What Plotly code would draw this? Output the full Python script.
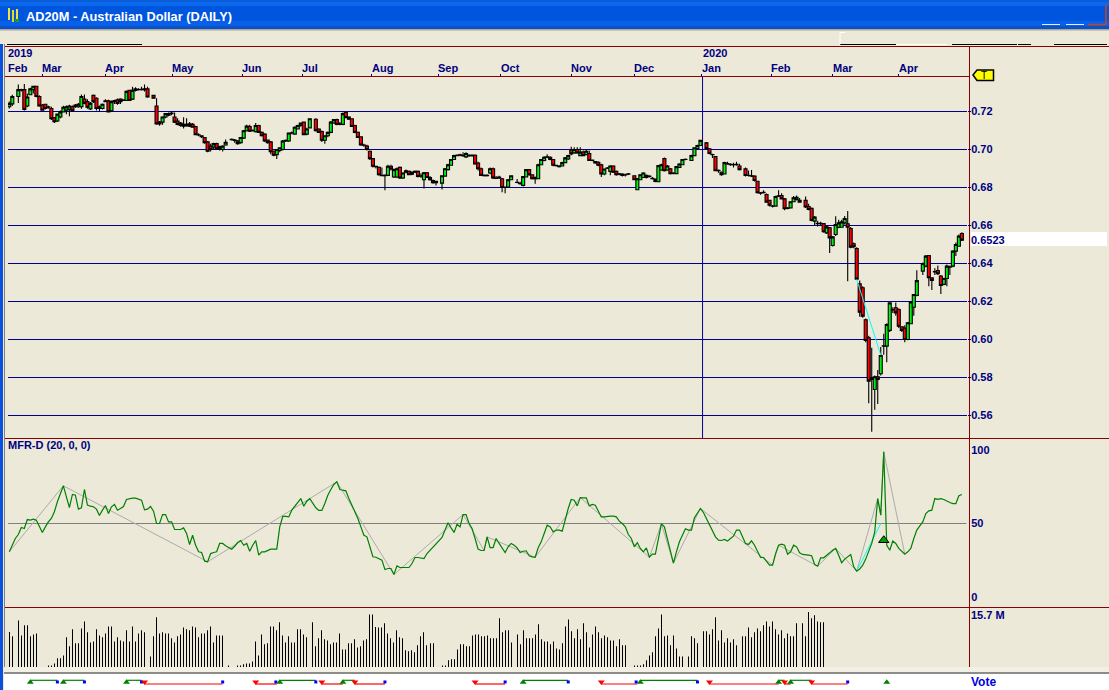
import math
import plotly.graph_objects as go

N = None
# Prices in 1/10000 of a US dollar, one entry per weekday slot (None = no bar)
opens_e4 = [7225,7240,N,7279,7312,7315,7229,7288,7315,7333,
7279,7234,7238,7225,7216,7168,7150,7171,7198,7207,
7211,7225,7225,7225,7225,7265,7252,7214,7285,7270,
7225,7216,7252,7256,7204,7258,7261,7265,7261,7258,
7311,7265,7311,7315,7315,7315,7319,N,7285,7229,
7144,7144,7171,7180,7189,7171,7150,7126,7132,7132,
7135,7132,7121,7078,7072,7063,7040,7018,7013,7031,
7015,7000,7024,N,7052,7050,7045,7036,7060,7099,
7121,7099,7094,7126,7090,7081,7050,7040,6991,6973,
6995,7000,7045,7045,7087,7081,7108,7126,7144,7081,
7114,N,7159,7108,7094,7049,7072,7090,7139,7157,
7135,7132,7195,7171,7162,7126,7090,7067,7024,7018,
6991,6952,6912,6906,6864,6862,6864,6912,6855,6855,
6906,6850,6880,6885,6870,6880,6885,6860,6841,6878,
6853,6837,6825,N,6823,6860,6894,6917,6947,6968,
6970,6970,6961,6970,6968,6970,6929,6899,6864,6862,
6876,6899,6850,6850,6846,6800,6802,6841,N,6826,
6820,6811,6855,6894,6867,6846,6846,6920,6942,6959,
6959,6947,6917,6912,6913,6931,6950,6996,6982,7000,
6968,6986,6973,6979,6942,6936,6933,6920,6871,6903,
6885,6913,6885,6872,6871,6867,6870,N,6862,6788,
6841,6853,6864,6858,6846,6844,6830,6892,6952,6892,
6899,6876,6873,6906,6920,6947,N,6942,6968,7005,
7021,N,7035,7004,6974,6963,6888,6880,6871,6924,
6920,6920,6922,6913,N,6898,6864,6862,6860,6833,
6772,6775,6763,6732,6703,6702,6754,6758,6740,6690,
6693,6725,6737,6733,N,6732,6700,6690,6623,6610,
6612,6610,6561,6588,6495,6553,6591,6591,6614,6609,
6584,6504,6479,6293,6272,6104,6009,5795,5737,5804,
5820,5965,5965,6048,6158,6167,6158,6067,6060,6000,
6083,6170,6232,N,6360,6386,6442,6325,6355,6363,
6334,6290,6321,6381,6386,6465,6491,6558]

highs_e4 = [7252,7288,N,7342,7320,7345,7295,7325,7335,7335,
7285,7240,7240,7230,7225,7170,7190,7205,7230,7232,
7235,7232,7240,7245,7290,7290,7265,7250,7290,7275,
7232,7242,7265,7262,7258,7262,7268,7270,7265,7310,
7315,7330,7328,7322,7330,7342,7330,N,7287,7270,
7150,7175,7192,7195,7198,7195,7165,7145,7170,7165,
7145,7140,7125,7085,7075,7065,7045,7030,7035,7035,
7020,7022,7052,N,7058,7055,7050,7066,7102,7130,
7130,7105,7140,7130,7095,7085,7052,7045,6995,7003,
7012,7050,7052,7090,7095,7122,7130,7142,7147,7115,
7165,N,7165,7112,7100,7075,7095,7150,7160,7162,
7145,7195,7200,7175,7165,7130,7095,7070,7030,7025,
6995,6955,6915,6910,6905,6870,6920,6920,6900,6905,
6910,6880,6895,6890,6885,6890,6890,6875,6882,6882,
6860,6842,6835,N,6865,6902,6925,6950,6972,6975,
6978,6985,6985,6975,6975,6975,6935,6905,6870,6870,
6905,6905,6860,6862,6850,6805,6845,6865,N,6845,
6830,6860,6898,6898,6870,6858,6925,6950,6965,6975,
6965,6950,6920,6918,6935,6960,6972,7015,7012,7012,
7012,6995,6998,6995,6948,6940,6938,6925,6900,6908,
6917,6917,6890,6876,6875,6872,6876,N,6865,6850,
6870,6880,6868,6864,6855,6848,6918,6925,6958,6918,
6902,6880,6913,6927,6950,6952,N,6972,7012,7025,
7050,N,7040,7008,6978,6966,6895,6884,6935,6935,
6928,6930,6935,6925,N,6905,6890,6892,6865,6836,
6776,6785,6768,6735,6708,6756,6785,6770,6745,6698,
6728,6755,6758,6745,N,6752,6715,6695,6650,6625,
6620,6612,6598,6592,6545,6649,6630,6630,6650,6676,
6592,6510,6485,6310,6280,6110,6020,5956,5810,5840,
5960,6030,6085,6196,6170,6195,6165,6070,6075,6092,
6200,6240,6365,N,6405,6445,6445,6328,6375,6390,
6340,6325,6395,6390,6470,6510,6552,6565]

lows_e4 = [7216,7229,N,7245,7305,7205,7222,7285,7295,7275,
7225,7205,7210,7215,7155,7140,7145,7165,7195,7185,
7175,7198,7220,7220,7215,7238,7215,7208,7245,7205,
7200,7210,7250,7195,7198,7240,7235,7240,7255,7255,
7255,7260,7305,7310,7310,7305,7272,N,7268,7130,
7125,7130,7165,7175,7180,7140,7128,7120,7110,7120,
7118,7115,7075,7070,7060,7030,6985,6990,7000,6998,
6995,6990,7020,N,7048,7035,7025,7030,7055,7095,
7092,7095,7090,7088,7068,7040,7030,6975,6965,6950,
6985,6995,7040,7040,7080,7078,7105,7120,7075,7075,
7112,N,7095,7088,7040,7030,7065,7085,7135,7128,
7128,7128,7165,7155,7118,7085,7060,7020,7015,6995,
6945,6905,6900,6862,6860,6785,6860,6890,6850,6850,
6845,6845,6875,6864,6865,6876,6852,6850,6795,6850,
6835,6820,6810,N,6790,6858,6890,6915,6945,6965,
6965,6960,6955,6960,6962,6920,6890,6860,6858,6858,
6870,6845,6845,6845,6775,6770,6800,6838,N,6822,
6815,6805,6852,6862,6842,6820,6843,6918,6938,6955,
6944,6912,6910,6905,6910,6928,6945,6970,6978,6978,
6965,6965,6970,6940,6938,6925,6912,6855,6865,6898,
6865,6876,6862,6865,6858,6858,6866,N,6838,6786,
6838,6850,6848,6852,6842,6828,6828,6888,6884,6888,
6868,6870,6870,6902,6918,6944,N,6940,6966,7003,
7018,N,7002,6975,6955,6885,6878,6862,6868,6920,
6915,6905,6915,6890,N,6858,6858,6855,6832,6768,
6762,6768,6720,6700,6695,6700,6750,6738,6680,6686,
6690,6722,6732,6720,N,6692,6680,6622,6600,6595,
6600,6562,6555,6455,6490,6545,6585,6588,6605,6307,
6480,6480,6315,6120,6115,5985,5665,5514,5630,5660,
5810,5920,5880,6040,6140,6125,6060,6040,5985,5996,
6080,6125,6228,N,6340,6380,6280,6260,6340,6340,
6240,6285,6280,6340,6380,6440,6488,6518]

closes_e4 = [7243,7279,N,7315,7315,7211,7276,7319,7333,7279,
7229,7207,7216,7222,7162,7146,7186,7198,7222,7225,
7229,7204,7234,7238,7279,7243,7222,7243,7252,7216,
7216,7238,7256,7198,7252,7252,7243,7252,7258,7306,
7258,7311,7319,7315,7317,7319,7276,N,7270,7135,
7135,7171,7189,7189,7192,7144,7132,7139,7122,7125,
7122,7117,7078,7076,7068,7036,6991,7000,7031,7004,
7004,7018,7038,N,7054,7048,7031,7063,7099,7123,
7096,7101,7126,7090,7072,7045,7036,6988,6970,7000,
7009,7045,7048,7087,7088,7117,7126,7139,7078,7108,
7162,N,7099,7090,7049,7072,7090,7144,7157,7132,
7132,7189,7168,7160,7121,7090,7063,7024,7022,7000,
6952,6912,6910,6867,6862,6864,6912,6897,6894,6899,
6850,6876,6888,6867,6880,6885,6858,6862,6878,6853,
6841,6825,6832,N,6862,6899,6920,6947,6968,6970,
6972,6968,6979,6968,6970,6924,6899,6864,6862,6864,
6899,6850,6848,6855,6800,6802,6841,6862,N,6828,
6822,6857,6894,6867,6846,6853,6920,6947,6959,6961,
6947,6917,6915,6910,6931,6956,6968,6977,7000,6982,
6986,6968,6991,6942,6944,6929,6917,6871,6897,6901,
6913,6880,6867,6870,6864,6866,6872,N,6841,6846,
6867,6876,6853,6860,6848,6832,6915,6920,6888,6913,
6873,6874,6910,6924,6947,6949,N,6968,7009,7021,
7048,N,7005,6979,6972,6888,6890,6867,6931,6926,
6922,6921,6920,6894,N,6863,6863,6860,6837,6772,
6770,6773,6723,6707,6702,6753,6756,6740,6688,6692,
6725,6746,6749,6723,N,6697,6684,6626,6644,6612,
6610,6567,6593,6535,6540,6605,6614,6619,6637,6591,
6486,6488,6318,6144,6123,5995,5781,5790,5804,5790,
5916,5967,6079,6193,6156,6140,6070,6048,6000,6088,
6198,6237,6310,N,6400,6439,6325,6311,6357,6346,
6284,6321,6386,6383,6465,6500,6544,6523]

mfr_values = [30.7,35.9,39.8,42.5,47.3,46.6,52.7,52.3,53.0,52.3,
48.4,43.9,47.7,51.1,53.4,58.0,64.8,70.5,75.7,68.2,
60.9,69.8,69.3,59.8,60.7,73.2,62.5,61.8,61.4,59.8,
55.5,59.1,62.3,56.8,61.4,63.0,59.1,60.2,61.6,66.4,
67.0,67.3,67.3,66.4,65.9,59.3,59.8,61.6,58.4,50.0,
50.0,56.1,56.1,51.1,51.1,45.9,45.9,45.9,47.0,43.2,
35.7,42.0,35.2,30.7,30.2,24.3,23.9,29.5,30.2,30.7,
36.4,36.4,34.8,33.6,32.5,34.5,37.0,38.4,35.2,36.4,
31.1,35.2,38.4,28.4,30.7,30.7,31.8,32.5,32.5,32.5,
47.7,54.8,54.8,54.5,59.1,62.0,64.8,67.0,61.8,65.2,
67.0,63.6,60.7,58.9,58.9,63.6,69.3,73.2,76.6,78.4,
73.2,72.7,72.3,67.0,62.5,58.4,53.4,47.7,42.0,40.9,33.6,
27.3,27.0,26.1,25.0,18.6,19.3,19.3,15.2,21.1,20.0,
20.0,20.0,20.0,22.7,26.8,26.8,26.6,26.1,29.5,31.8,
33.9,35.7,38.0,40.5,45.5,50.5,47.0,43.9,49.5,47.7,
56.1,56.1,50.0,46.6,39.8,32.5,31.6,31.6,40.9,33.6,
33.6,39.8,36.4,33.0,30.2,34.1,36.4,35.2,33.4,30.2,
31.1,31.4,28.0,27.3,27.0,33.4,37.5,43.2,48.9,47.7,
44.3,45.5,45.5,44.8,53.4,60.2,66.4,65.9,62.0,67.7,
67.5,67.5,62.0,63.0,62.5,58.4,54.5,54.5,55.0,55.0,
55.0,54.5,51.6,50.0,47.7,42.5,39.8,34.1,37.0,33.0,
30.7,33.4,27.0,29.1,29.1,38.6,49.8,47.7,39.8,31.1,
23.0,30.7,37.5,42.0,46.4,45.5,45.5,53.9,57.3,60.2,
57.5,53.4,50.0,45.5,40.9,38.6,38.4,39.1,38.0,39.8,
41.4,45.5,45.5,
40.9,36.4,35.7,38.2,35.2,31.1,26.8,26.8,23.9,21.6,
21.6,29.5,35.2,35.9,35.2,29.1,30.7,35.2,34.1,30.0,
28.9,28.4,28.4,28.0,22.0,20.9,26.6,26.6,28.0,30.0,
31.8,33.0,28.4,23.2,25.7,27.3,28.9,20.5,17.5,18.9,
21.6,25.7,31.8,
36.4,44.3,67.0,55.7,98.9,35.2,31.8,38.0,36.4,33.0,
31.1,29.1,30.7,33.0,39.8,45.5,48.4,51.1,56.8,58.6,
59.1,67.0,66.4,67.0,66.4,65.2,64.3,63.6,63.6,68.9,69.8]

# Zig-zag pivots of the MFR line
pivot_slots = [0,18,66,109,128,151,158,159,175,190,213,217,221,230,254,256,269,275,282,289,290,291,298]
pivot_values = [30.7,75.7,23.9,78.4,15.2,56.1,31.6,40.9,27.0,67.7,27.0,49.8,23.0,60.2,21.6,35.2,20.9,33.0,17.5,67.0,55.7,98.9,29.1]

# Cyan trend segments
trend_slots = [282,290]
trend_price = [0.6316,0.5918]
trend_mfr = [17.5,50.0]

# Volume in millions
volume_m = [10.0,8.8,N,13.3,9.0,11.9,11.9,8.8,9.3,9.6,
N,N,N,0.2,0.2,1.0,2.5,2.5,3.3,8.5,
5.9,10.8,6.8,6.8,11.0,13.0,9.9,7.0,7.3,10.8,
9.0,8.5,9.6,11.6,11.6,7.3,8.5,7.6,7.3,10.5,
7.3,11.6,7.3,9.6,10.5,9.9,N,3.0,8.8,14.2,
9.6,9.9,9.6,9.6,8.2,7.0,8.8,9.3,11.3,10.8,
10.5,11.6,11.3,8.5,9.6,9.6,10.5,11.6,7.0,9.0,
9.0,9.0,N,0.2,N,N,0.2,0.2,0.8,1.0,
1.0,1.6,7.3,3.3,9.3,6.5,6.8,11.6,11.6,10.5,
12.8,9.0,7.0,8.8,7.0,7.0,10.8,10.8,9.3,8.5,
N,12.8,5.9,8.2,10.5,7.9,7.6,6.5,7.0,7.0,
9.6,5.0,5.0,6.8,6.8,7.9,5.6,5.9,7.6,7.9,
15.0,15.0,11.4,11.3,11.3,12.5,9.6,8.2,7.0,10.5,
8.5,8.2,4.8,4.5,4.8,4.2,6.2,8.8,9.9,6.2,
6.8,6.8,N,N,0.2,0.2,1.9,2.2,2.2,5.0,
6.5,6.5,5.9,5.9,9.0,9.3,9.3,8.8,8.8,9.0,
8.2,8.2,8.2,13.9,9.9,10.5,10.5,7.0,N,9.3,
6.5,10.5,8.2,8.2,8.2,9.3,12.2,7.9,7.3,7.3,
6.5,7.3,5.3,5.0,6.8,11.6,13.6,10.2,8.2,10.8,
7.9,12.5,9.9,5.6,9.3,11.6,9.9,8.2,9.0,8.5,
7.6,7.6,5.9,7.9,6.2,6.2,N,N,0.2,0.2,
0.2,0.8,1.9,3.3,4.2,8.8,11.0,15.0,8.8,9.0,
6.2,9.0,5.3,3.0,3.0,N,3.0,8.8,8.2,6.8,
N,10.2,10.2,9.3,10.8,14.2,7.6,10.5,7.0,8.2,
7.0,7.9,6.2,N,
8.8,8.8,11.3,8.5,9.9,11.0,10.2,11.9,13.0,11.6,
13.0,10.8,9.3,10.5,8.2,9.6,8.8,8.8,12.5,N,
12.5,8.8,15.7,13.9,14.8,13.0,12.8,12.8]

# Vote strip: buy / sell spans and end markers (weekday slots)
buy_starts = [7,18,39,90,111,171,210,256,260]
buy_ends = [16,25,44,102,115,186,229,258,267]
sell_starts = [45,82,104,115,155,197,233,258,267]
sell_ends = [71,89,111,125,165,209,256,260,279]
span_end_slots = [16,25,44,71,88.7,102,125,165,186,208.6,229,279]
lone_buy_slot = [292]
signal_slot = [291]
signal_value = [38.6]

y_ticks = [0.56,0.58,0.60,0.62,0.64,0.66,0.68,0.70,0.72]
mfr_ticks = [0,50,100]
last_price = 0.6523
volume_label = "15.7 M"
month_names = ["Feb","Mar","Apr","May","Jun","Jul","Aug","Sep","Oct","Nov","Dec","Jan","Feb","Mar","Apr"]
month_slots = [-0.4,11,32,54.2,77.5,97.5,120.6,142.7,163.6,187,208,230.5,253.5,274,296]
year_labels = ["2019","2020"]
year_slots = [-0.4,230.7]
title_text = "AD20M - Australian Dollar (DAILY)"

assert len(opens_e4) == len(highs_e4) == len(lows_e4) == len(closes_e4) == 318, (len(opens_e4), len(highs_e4), len(lows_e4), len(closes_e4))
assert len(mfr_values) == 318, len(mfr_values)
assert len(volume_m) == 272, len(volume_m)

W, H = 1109, 690
CREAM = "#ECE9D8"
NAVY = "#000080"
GRID = "#000090"
DARKRED = "#8B0000"
FONT = "Liberation Sans"
PX_PER_SLOT = 3.005
FIRST_SLOT_PX = 9.3


def fx(px):
    return px / W


def fy(py):
    return 1 - py / H


def slot_at(px):
    return (px - FIRST_SLOT_PX) / PX_PER_SLOT


def crisp_slot(k):
    # centre a thin volume bar on a device pixel so it renders exactly one pixel wide
    return slot_at(math.floor(FIRST_SLOT_PX + PX_PER_SLOT * k) + 0.5)


def e4(values):
    return [None if v is None else v / 10000 for v in values]


def dom(top, bottom):
    return [fy(bottom), fy(top)]


def rng(v_top, y_top, px_per_unit, y_a, y_b):
    return [v_top - (y_b - y_top) / px_per_unit, v_top - (y_a - y_top) / px_per_unit]


slots = list(range(len(closes_e4)))
fig = go.Figure()

fig.add_trace(go.Candlestick(
    x=slots, open=e4(opens_e4), high=e4(highs_e4), low=e4(lows_e4), close=e4(closes_e4),
    increasing=dict(line=dict(color="black", width=1.1), fillcolor="#00F010"),
    decreasing=dict(line=dict(color="black", width=1.1), fillcolor="#FF0000"),
    whiskerwidth=0, showlegend=False, hoverinfo="skip", xaxis="x", yaxis="y"))
fig.add_trace(go.Scatter(x=trend_slots, y=trend_price, mode="lines", line=dict(color="#00FFFF", width=1),
                         showlegend=False, hoverinfo="skip", xaxis="x", yaxis="y"))

fig.add_trace(go.Scatter(x=pivot_slots, y=pivot_values, mode="lines", line=dict(color="#ABABAB", width=1),
                         showlegend=False, hoverinfo="skip", xaxis="x", yaxis="y2"))
fig.add_trace(go.Scatter(x=trend_slots, y=trend_mfr, mode="lines", line=dict(color="#00FFFF", width=1),
                         showlegend=False, hoverinfo="skip", xaxis="x", yaxis="y2"))
fig.add_trace(go.Scatter(x=slots, y=mfr_values, mode="lines", line=dict(color="#008000", width=1.2),
                         showlegend=False, hoverinfo="skip", xaxis="x", yaxis="y2"))
fig.add_trace(go.Scatter(x=signal_slot, y=signal_value, mode="markers",
                         marker=dict(symbol="triangle-up", size=9, color="#00A000", line=dict(color="black", width=1)),
                         showlegend=False, hoverinfo="skip", xaxis="x", yaxis="y2"))

fig.add_trace(go.Bar(x=[crisp_slot(k) for k in range(len(volume_m))], y=volume_m, width=0.05,
                     marker=dict(color="black", line=dict(width=0)),
                     showlegend=False, hoverinfo="skip", xaxis="x", yaxis="y3"))


def span_xy(starts, ends, level):
    xs, ys = [], []
    for a, b in zip(starts, ends):
        xs += [a, b, None]
        ys += [level, level, None]
    return xs, ys


bx, by = span_xy(buy_starts, buy_ends, 1)
rx, ry = span_xy(sell_starts, sell_ends, 0)
fig.add_trace(go.Scatter(x=bx, y=by, mode="lines", line=dict(color="#008000", width=1.2),
                         showlegend=False, hoverinfo="skip", xaxis="x", yaxis="y4"))
fig.add_trace(go.Scatter(x=rx, y=ry, mode="lines", line=dict(color="#FF0000", width=1.2),
                         showlegend=False, hoverinfo="skip", xaxis="x", yaxis="y4"))
fig.add_trace(go.Scatter(x=span_end_slots, y=[0.55] * len(span_end_slots), mode="markers",
                         marker=dict(symbol="square", size=3, color="#0000FF"),
                         showlegend=False, hoverinfo="skip", xaxis="x", yaxis="y4"))
fig.add_trace(go.Scatter(x=buy_starts + lone_buy_slot, y=[0.45] * (len(buy_starts) + 1), mode="markers",
                         marker=dict(symbol="triangle-up", size=6, color="#008000"),
                         showlegend=False, hoverinfo="skip", xaxis="x", yaxis="y4"))
fig.add_trace(go.Scatter(x=sell_starts, y=[0.55] * len(sell_starts), mode="markers",
                         marker=dict(symbol="triangle-down", size=6, color="#FF0000"),
                         showlegend=False, hoverinfo="skip", xaxis="x", yaxis="y4"))


def rect(x0, y0, x1, y1, color):
    return dict(type="rect", xref="paper", yref="paper", x0=fx(x0), x1=fx(x1), y0=fy(y0), y1=fy(y1),
                fillcolor=color, line=dict(width=0), layer="below")


def seg(x0, y0, x1, y1, color, width=1):
    return dict(type="line", xref="paper", yref="paper", x0=fx(x0), x1=fx(x1), y0=fy(y0), y1=fy(y1),
                line=dict(color=color, width=width), layer="below")


shapes = []
for top, bottom, colour in [(0, 2, "#0A5CD8"), (2, 6, "#0A68EC"), (6, 21, "#0055DF"), (21, 26, "#0860EA"),
                            (26, 29, "#0A50C8")]:
    shapes.append(rect(0, top, W, bottom, colour))
shapes.append(rect(0, 29, W, 30.5, "#ACA899"))
# icon
shapes += [rect(8, 8, 10, 20, "#F4E03A"), rect(12, 10, 14, 22, "#E8D820"), rect(16, 9, 18, 19, "#F4E03A"),
           rect(15, 19, 19, 22, "#10A030")]
# window buttons
shapes += [seg(1042, 24.5, 1060, 24.5, "#E8F0FF"), seg(1066, 24.5, 1084, 24.5, "#E8F0FF"),
           seg(1088, 24.5, 1106, 24.5, "#D04010", 1.5), seg(1106, 5, 1106, 24.5, "#D04010", 1.5)]
# toolbar fragments
shapes += [seg(7, 44.5, 142, 44.5, "black"), seg(840, 44.5, 896, 44.5, "black"), seg(896, 44.5, 947, 44.5, "white"),
           seg(840, 33, 840, 44.5, "white"), seg(840, 32.5, 845, 32.5, "white"),
           seg(952, 44.5, 1017, 44.5, "black"), seg(1018, 44.5, 1031, 44.5, "black"),
           seg(1054, 44.5, 1107, 44.5, "black")]
# left frame
shapes += [rect(0, 44, 3, H, "#0A50E0"), seg(4.5, 44, 4.5, 672, "#808080")]
# panel frame
shapes += [seg(5, 46.5, W, 46.5, DARKRED), seg(5, 76.5, 969, 76.5, DARKRED), seg(5, 438.5, W, 438.5, DARKRED),
           seg(5, 607.5, W, 607.5, DARKRED), seg(969.5, 46, 969.5, 667, DARKRED)]
# vote strip
shapes += [rect(4, 674, W, H, "white"), rect(4, 667, W, 672, "#F2F0E4"), rect(4, 672, W, 674, "#8C8C88")]
# value tag
shapes.append(rect(971, 232, 1107, 246, "white"))
# T tag
path = "M {},{} L {},{} L {},{} L {},{} L {},{} Z".format(
    fx(973), fy(75), fx(977), fy(70), fx(993.5), fy(70), fx(993.5), fy(80.5), fx(977), fy(80.5))
shapes.append(dict(type="path", xref="paper", yref="paper", path=path, fillcolor="#FFFF00",
                   line=dict(color="black", width=1.5), layer="below"))
# Price grid lines, year boundary line and MFR mid line
for level in y_ticks:
    shapes.append(dict(type="line", xref="paper", yref="y", x0=fx(8), x1=fx(967), y0=level, y1=level,
                       line=dict(color=GRID, width=1), layer="below"))
shapes.append(dict(type="line", xref="x", yref="paper", x0=year_slots[1], x1=year_slots[1], y0=fy(438), y1=fy(77),
                   line=dict(color=GRID, width=1), layer="below"))
shapes.append(dict(type="line", xref="x", yref="y2", x0=-0.4, x1=318.5, y0=50, y1=50,
                   line=dict(color="#808080", width=1), layer="below"))

annotations = [dict(text="<b>" + title_text + "</b>", xref="paper", yref="paper", x=fx(24), y=fy(16),
                    xanchor="left", yanchor="middle", showarrow=False, font=dict(family=FONT, size=12.8, color="white"))]
lab = dict(family=FONT, size=11, color=NAVY)


def text(t, xref, x, y, font=lab, yref="paper", xanchor="left"):
    return dict(text="<b>" + t + "</b>", xref=xref, yref=yref, x=x, y=y, xanchor=xanchor, yanchor="middle",
                showarrow=False, font=font, borderpad=0, borderwidth=0)


for name, s in zip(month_names, month_slots):
    annotations.append(text(name, "x", s, fy(68)))
for name, s in zip(year_labels, year_slots):
    annotations.append(text(name, "x", s, fy(53)))
annotations.append(text("MFR-D (20, 0, 0)", "paper", fx(8), fy(445)))
annotations.append(text(f"{last_price:.4f}", "paper", fx(971), last_price, yref="y"))
annotations.append(text(volume_label, "paper", fx(971), fy(615)))
annotations.append(text("Vote", "paper", fx(971), fy(682), font=dict(family=FONT, size=12, color="#0000E0")))
annotations.append(dict(text="T", xref="paper", yref="paper", x=fx(984), y=fy(75.5), xanchor="center", yanchor="middle",
                        showarrow=False, font=dict(family=FONT, size=10, color="black")))

x_range = [slot_at(8), slot_at(967)]
tickfont = dict(family=FONT, size=11, color=NAVY, weight="bold")

fig.update_layout(
    width=W, height=H, margin=dict(l=0, r=0, t=0, b=0, pad=0), autosize=False,
    paper_bgcolor=CREAM, plot_bgcolor="rgba(0,0,0,0)", showlegend=False,
    boxgap=0, boxgroupgap=0, barmode="overlay",
    shapes=shapes, annotations=annotations,
    xaxis=dict(domain=[fx(8), fx(967)], range=x_range, anchor="y", side="top", showgrid=False, zeroline=False,
               showticklabels=False, ticks="outside", ticklen=2, tickcolor=NAVY, tickmode="array", tickvals=month_slots[1:],
               rangeslider=dict(visible=False), fixedrange=True),
    yaxis=dict(domain=dom(77, 438), range=rng(0.72, 111.5, 1900, 77, 438), anchor="x", side="right",
               tickmode="array", tickvals=y_ticks, tickformat=".2f", showgrid=False,
               zeroline=False, ticks="outside", ticklen=3, tickcolor=NAVY, tickfont=tickfont, ticklabelstandoff=-2),
    yaxis2=dict(domain=dom(438.5, 607.5), range=rng(50, 523.5, 3 * 0.4888, 438.5, 607.5), anchor="x", side="right",
                tickmode="array", tickvals=mfr_ticks, showgrid=False, zeroline=False, ticks="outside", ticklen=3,
                tickcolor="rgba(0,0,0,0)", tickfont=tickfont, ticklabelstandoff=-2),
    yaxis3=dict(domain=dom(607.5, 667), range=[0, 59.5 / 3.5], anchor="x", side="right", showgrid=False,
                zeroline=False, showticklabels=False, ticks=""),
    yaxis4=dict(domain=dom(674, 690), range=[-6 / 3.7, 10 / 3.7], anchor="x", side="right", showgrid=False,
                zeroline=False, showticklabels=False, ticks=""),
)

fig.write_html("out.html", config=dict(displayModeBar=False),
               post_script="document.body.style.margin='0';document.body.style.overflow='hidden';")
